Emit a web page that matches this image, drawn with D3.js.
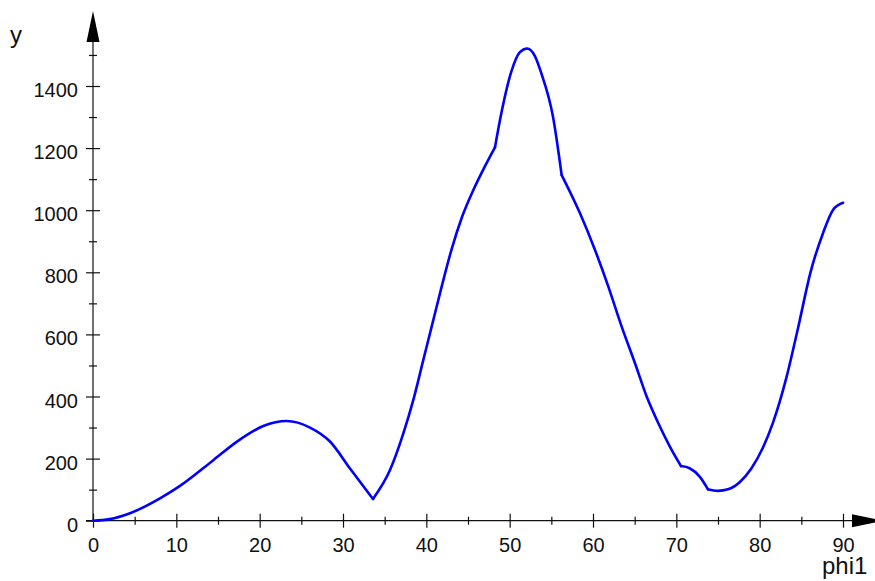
<!DOCTYPE html>
<html lang="en">
<head>
<meta charset="UTF-8">
<title>phi1 plot</title>
<style>
  body { margin: 0; background: #fff; }
  .tick text { font-family: "Liberation Sans", Arial, sans-serif; font-size: 20px; fill: #111; }
  .axis-label { font-family: "Liberation Sans", Arial, sans-serif; font-size: 24px; fill: #111; }
</style>
</head>
<body>
<div id="chart"></div>
<script src="https://d3js.org/d3.v7.min.js"></script>
<script>
// values
const phi = [0, 2, 4.44, 8.04, 10.44, 14.44, 17.24, 20.44, 23.24, 26.04, 28.44, 30.84, 33.6,
  35.64, 37.24, 38.44, 39.64, 40.64, 41.84, 43.04, 44.24, 45.64, 47.04, 48.24,
  49.0, 50.2, 51.2, 52.1, 53.0, 53.8, 55.2, 56.24,
  58.44, 60.24, 61.84, 63.44, 65.04, 66.44, 67.84, 69.24, 70.56,
  71.6, 72.8, 73.8,
  75.0, 76.2, 77.6, 79.0, 80.4, 81.6, 83.2, 84.6, 86.1, 87.6, 88.8, 90];
const yVals = [0, 5, 24, 72, 112, 195, 254, 305, 321, 300, 255, 168, 70,
  163, 281, 389, 518, 625, 754, 875, 975, 1065, 1142, 1203,
  1312, 1446, 1508, 1521, 1498, 1441, 1301, 1113,
  990, 872, 754, 625, 507, 400, 314, 238, 176,
  169, 142, 101,
  96, 101, 124, 168, 236, 316, 460, 620, 800, 926, 1001, 1024];
// places where the curve has a corner
const corners = [33.6, 48.24, 56.24, 70.56, 73.8];

const xMajor = [0, 10, 20, 30, 40, 50, 60, 70, 80, 90];
const xMinor = [5, 15, 25, 35, 45, 55, 65, 75, 85];
const yMajor = [0, 200, 400, 600, 800, 1000, 1200, 1400];
const yMinor = [100, 300, 500, 700, 900, 1100, 1300, 1500];

const width = 875, height = 581;
const svg = d3.select("#chart").append("svg")
  .attr("width", width).attr("height", height);

const x = d3.scaleLinear().domain([0, 90]).range([93, 843]);
const y = d3.scaleLinear().domain([0, 1400]).range([520.7, 86]);

const axisColor = "#111";

// axis lines with arrows
svg.append("line").attr("x1", x(0) - 7).attr("x2", 852)
  .attr("y1", y(0)).attr("y2", y(0)).attr("stroke", axisColor).attr("stroke-width", 1.2);
svg.append("path").attr("d", `M852,${y(0) - 6.5}L883,${y(0)}L852,${y(0) + 6.5}Z`).attr("fill", "#000");
svg.append("line").attr("x1", x(0)).attr("x2", x(0))
  .attr("y1", y(0)).attr("y2", 42).attr("stroke", axisColor).attr("stroke-width", 1.2);
svg.append("path").attr("d", `M${x(0) - 6.5},42L${x(0)},11L${x(0) + 6.5},42Z`).attr("fill", "#000");

function styleTicks(g, len, horiz) {
  g.select(".domain").remove();
  g.selectAll(".tick line").attr("stroke", axisColor).attr("stroke-width", 1.2);
  if (horiz) g.selectAll(".tick line").attr("y1", -len).attr("y2", len);
  else g.selectAll(".tick line").attr("x1", -len).attr("x2", len);
}

const gxMinor = svg.append("g").attr("transform", `translate(0,${y(0)})`)
  .call(d3.axisBottom(x).tickValues(xMinor).tickSize(4).tickFormat(""));
styleTicks(gxMinor, 4, true);
const gx = svg.append("g").attr("transform", `translate(0,${y(0)})`)
  .call(d3.axisBottom(x).tickValues(xMajor).tickSize(7).tickFormat(d3.format("d")));
styleTicks(gx, 7, true);
gx.selectAll(".tick text").attr("y", 31).attr("dy", 0);

const gyMinor = svg.append("g").attr("transform", `translate(${x(0)},0)`)
  .call(d3.axisLeft(y).tickValues(yMinor).tickSize(4).tickFormat(""));
styleTicks(gyMinor, 4, false);
const gy = svg.append("g").attr("transform", `translate(${x(0)},0)`)
  .call(d3.axisLeft(y).tickValues(yMajor).tickSize(7).tickFormat(d3.format("d")));
styleTicks(gy, 7, false);
gy.selectAll(".tick text").attr("x", -15).attr("dy", 0).attr("y", 10.5);

svg.append("text").attr("class", "axis-label").attr("x", 10).attr("y", 43).text("y");
svg.append("text").attr("class", "axis-label").attr("x", 822).attr("y", 574).text("phi1");

// curve, split at corners and smoothed within each piece
const pts = phi.map((p, i) => [p, yVals[i]]);
const bounds = [0, ...corners, 90];
const line = d3.line().x(d => x(d[0])).y(d => y(d[1])).curve(d3.curveMonotoneX);
for (let i = 0; i < bounds.length - 1; i++) {
  const seg = pts.filter(d => d[0] >= bounds[i] && d[0] <= bounds[i + 1]);
  svg.append("path").datum(seg)
    .attr("d", line)
    .attr("fill", "none")
    .attr("stroke", "#0000ff")
    .attr("stroke-width", 2.6)
    .attr("stroke-linejoin", "round")
    .attr("stroke-linecap", "round");
}
</script>
</body>
</html>
